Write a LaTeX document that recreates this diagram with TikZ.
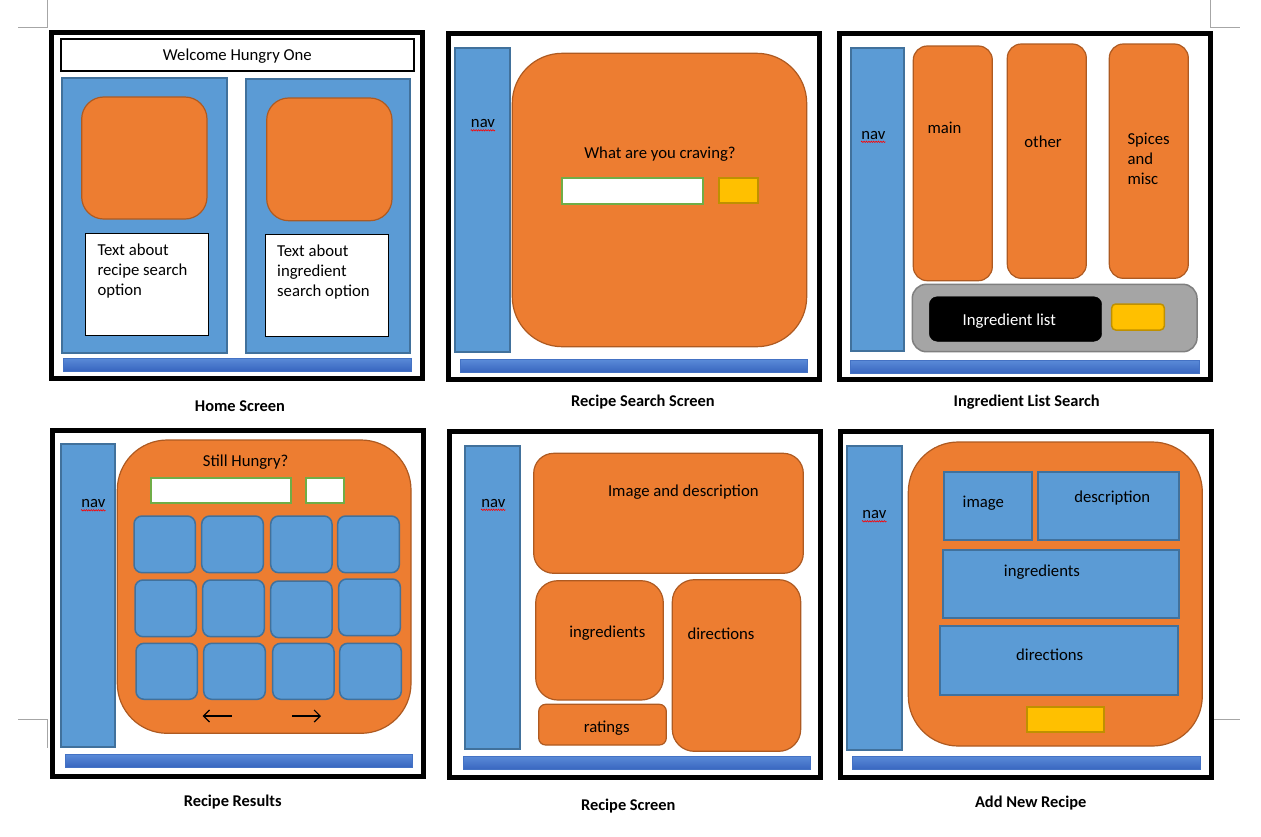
\documentclass[tikz,border=0pt]{standalone}
\usepackage{fontspec}
\setmainfont{Carlito}
\usetikzlibrary{arrows.meta,decorations.pathmorphing}
\definecolor{org}{HTML}{ED7D31}
\definecolor{orgb}{HTML}{AE5A21}
\definecolor{blu}{HTML}{5B9BD5}
\definecolor{blub}{HTML}{41719C}
\definecolor{yel}{HTML}{FFC000}
\definecolor{yelb}{HTML}{BF9000}
\definecolor{gry}{HTML}{A5A5A5}
\definecolor{gryb}{HTML}{7F7F7F}
\definecolor{grn}{HTML}{70AD47}
\definecolor{bartop}{HTML}{5A8BD8}
\definecolor{barbot}{HTML}{3865BF}
\definecolor{barb}{HTML}{4472C4}
\definecolor{crop}{HTML}{A6A6A6}
\newcommand\shp[6]{\node[#1,anchor=north west,inner sep=0pt,outer sep=0pt,minimum width={(#4)-(#2)},minimum height={(#5)-(#3)}] (#6) at (#2,#3) {};}
\tikzset{
  every node/.style={font=\fontsize{16.7}{20}\selectfont},
  frame/.style={draw=black,line width=5pt,fill=white},
  navbox/.style={draw=blub,line width=2pt,fill=blu},
  bluebox/.style={draw=blub,line width=2pt,fill=blu},
  tile/.style={draw=blub,line width=1.5pt,fill=blu,rounded corners=8pt},
  orgbox/.style={draw=orgb,line width=1.2pt,fill=org},
  bigorg/.style={orgbox,rounded corners=50pt},
  inbox/.style={draw=grn,line width=2pt,fill=white},
  yelbox/.style={draw=yelb,line width=2pt,fill=yel},
  bar/.style={draw=barb,line width=0.6pt,top color=bartop,bottom color=barbot},
  txt/.style={inner sep=0pt,text=black,yshift=-1.5pt},
  ttl/.style={inner sep=0pt,yshift=-1pt,font=\fontsize{16.4}{20}\selectfont\bfseries},
  squig/.style={draw=red,line width=0.6pt,decorate,decoration={zigzag,amplitude=0.7pt,segment length=2.4pt}},
  cropline/.style={draw=crop,line width=0.8pt},
  arr/.style={line width=1.2pt,-{Straight Barb[length=6pt,width=12pt,line width=1.2pt]}}
}
\begin{document}
\begin{tikzpicture}[x=1pt,y=-1pt]
\useasboundingbox (0,0) rectangle (1261,836);
\fill[white] (0,0) rectangle (1261,836);
% crop marks
\coordinate (c1a) at (47.5,0); \coordinate (c1b) at (47.5,27); \coordinate (c1c) at (18,27);
\draw[cropline] (c1a) -- (c1b) -- (c1c);
\coordinate (c2a) at (1210,0); \coordinate (c2b) at (1210,27); \coordinate (c2c) at (1240,27);
\draw[cropline] (c2a) -- (c2b) -- (c2c);
\coordinate (c3a) at (18,719); \coordinate (c3b) at (47.5,719); \coordinate (c3c) at (47.5,748);
\draw[cropline] (c3a) -- (c3b) -- (c3c);
\coordinate (c4a) at (1212,719); \coordinate (c4b) at (1240,719);
\draw[cropline] (c4a) -- (c4b);

% ===== Panel 1: Home Screen =====
\shp{frame}{51.5}{32.5}{422.5}{378.5}{f1}
\shp{draw=black,line width=2.2pt,fill=white}{60.7}{39}{414}{71}{wel}
\node[txt] (welt) at (wel.center) {Welcome Hungry One};
\shp{bluebox}{62}{78}{227}{353}{b1l}
\shp{bluebox}{246}{79}{410}{353}{b1r}
\shp{orgbox,rounded corners=22pt}{81.7}{97}{207}{219}{o1l}
\shp{orgbox,rounded corners=22pt}{266.7}{98}{392}{220.7}{o1r}
\shp{draw=black,line width=1pt,fill=white}{85.3}{233}{208.7}{335}{w1l}
\shp{draw=black,line width=1pt,fill=white}{265}{234}{388.7}{336}{w1r}
\node[txt,anchor=north west,align=left] (t1l) at (97.3,242) {Text about\\recipe search\\option};
\node[txt,anchor=north west,align=left] (t1r) at (277,243) {Text about\\ingredient\\search option};
\shp{bar}{63}{358}{411}{371}{bar1}
\node[ttl] (ttl1) at (240,405) {Home Screen};

% ===== Panel 2: Recipe Search Screen =====
\shp{frame}{448.5}{33.5}{819.5}{379.2}{f2}
\shp{navbox}{455.3}{48.3}{509.7}{351.7}{nav2}
\node[txt] (n2) at (483,122) {nav};
\draw[squig] ([yshift=-2.5pt]n2.south west) -- ([yshift=-2.5pt]n2.south east);
\shp{bigorg}{512.3}{53.3}{806.7}{346.7}{o2}
\node[txt] (q2) at (660,153) {What are you craving?};
\shp{inbox}{562}{178.3}{702.7}{204}{in2}
\shp{yelbox}{719.3}{177.7}{758.3}{203.3}{y2}
\shp{bar}{460}{359.3}{807.7}{372.3}{bar2}
\node[ttl] (ttl2) at (643,401) {Recipe Search Screen};

% ===== Panel 3: Ingredient List Search =====
\shp{frame}{839.8}{33.8}{1210.2}{379.2}{f3}
\shp{navbox}{850.7}{48.3}{904.3}{351}{nav3}
\node[txt] (n3) at (873.3,133.5) {nav};
\draw[squig] ([yshift=-2.5pt]n3.south west) -- ([yshift=-2.5pt]n3.south east);
\shp{orgbox,rounded corners=14pt}{913.3}{46}{992.3}{280.7}{m3}
\node[txt,anchor=west] (m3t) at (927.3,126) {main};
\shp{orgbox,rounded corners=14pt}{1007.3}{44}{1086.3}{278.3}{ot3}
\node[txt] (ot3t) at (1043,140.5) {other};
\shp{orgbox,rounded corners=14pt}{1109.3}{44}{1188.3}{278.3}{sp3}
\node[txt,anchor=north west,align=left] (sp3t) at (1127.3,131) {Spices\\and\\misc};
\shp{draw=gryb,line width=1.5pt,fill=gry,rounded corners=14pt}{912.3}{284.3}{1197}{351.7}{g3}
\shp{fill=black,draw=black,rounded corners=8pt}{929.3}{296.7}{1101.7}{341.3}{k3}
\node[txt,text=white] (k3t) at (1009.3,319.5) {Ingredient list};
\shp{yelbox,line width=1.5pt,rounded corners=4pt}{1111.7}{304}{1164.3}{330}{y3}
\shp{bar}{850.7}{360}{1199}{373.7}{bar3}
\node[ttl] (ttl3) at (1026.7,401) {Ingredient List Search};

% ===== Panel 4: Recipe Results =====
\shp{frame}{52.5}{430.8}{423.5}{776.5}{f4}
\shp{navbox}{60.7}{444.3}{114.7}{747.3}{nav4}
\node[txt] (n4) at (93.3,502) {nav};
\draw[squig] ([yshift=-2.5pt]n4.south west) -- ([yshift=-2.5pt]n4.south east);
\shp{bigorg}{117.3}{440}{411}{733.3}{o4}
\node[txt] (q4) at (245.7,461) {Still Hungry?};
\shp{inbox}{150.7}{478.3}{290.7}{502.7}{in4a}
\shp{inbox}{305.7}{478.3}{344.3}{502.7}{in4b}
\shp{tile}{134}{516}{195.3}{572.7}{t11}
\shp{tile}{201.7}{516}{263.3}{572.7}{t12}
\shp{tile}{270.7}{516}{332}{572.7}{t13}
\shp{tile}{337.7}{516}{399.3}{572.7}{t14}
\shp{tile}{135}{580}{196.3}{636.7}{t21}
\shp{tile}{202.7}{580}{264.3}{636.7}{t22}
\shp{tile}{270.7}{581}{332}{637.7}{t23}
\shp{tile}{338.7}{579}{400.3}{635.7}{t24}
\shp{tile}{136}{643.3}{197.3}{699.3}{t31}
\shp{tile}{203.7}{643.3}{265.3}{699.3}{t32}
\shp{tile}{272.7}{643.3}{334}{699.3}{t33}
\shp{tile}{339.7}{643.3}{401.3}{699.3}{t34}
\coordinate (la1) at (231.7,716); \coordinate (la2) at (202.7,716);
\coordinate (ra1) at (292.3,716); \coordinate (ra2) at (321,716);
\draw[arr] (la1) -- (la2);
\draw[arr] (ra1) -- (ra2);
\shp{bar}{65}{754.3}{412.7}{767.3}{bar4}
\node[ttl] (ttl4) at (232.7,801) {Recipe Results};

% ===== Panel 5: Recipe Screen =====
\shp{frame}{449.8}{431.8}{820.2}{777.2}{f5}
\shp{navbox}{465.3}{446.3}{519.7}{749.3}{nav5}
\node[txt] (n5) at (493.3,501.5) {nav};
\draw[squig] ([yshift=-2.5pt]n5.south west) -- ([yshift=-2.5pt]n5.south east);
\shp{orgbox,rounded corners=20pt}{533.7}{453.3}{803.3}{573.3}{id5}
\node[txt] (id5t) at (683.3,491) {Image and description};
\shp{orgbox,rounded corners=22pt}{535.7}{580.7}{663.3}{700}{ing5}
\node[txt] (ing5t) at (607.3,632) {ingredients};
\shp{orgbox,rounded corners=22pt}{672.3}{579.7}{800.7}{751.3}{dir5}
\node[txt] (dir5t) at (721,632) {directions};
\shp{orgbox,rounded corners=7pt}{538.7}{704.3}{666.3}{745}{rat5}
\node[txt] (rat5t) at (606.7,726.5) {ratings};
\shp{bar}{463}{756}{810.7}{769.7}{bar5}
\node[ttl] (ttl5) at (628.3,805) {Recipe Screen};

% ===== Panel 6: Add New Recipe =====
\shp{frame}{840.5}{431.8}{1211.5}{777.5}{f6}
\shp{navbox}{847.3}{446.3}{901.7}{749.7}{nav6}
\node[txt] (n6) at (874.3,513) {nav};
\draw[squig] ([yshift=-2.5pt]n6.south west) -- ([yshift=-2.5pt]n6.south east);
\shp{bigorg}{908.3}{442}{1202.3}{746}{o6}
\shp{bluebox}{943.7}{471.7}{1031.7}{540.3}{im6}
\node[txt] (im6t) at (983.3,501.5) {image};
\shp{bluebox}{1038.3}{471.7}{1178.7}{540.3}{de6}
\node[txt] (de6t) at (1112.3,496.5) {description};
\shp{bluebox}{942.7}{549.7}{1179.3}{618.3}{in6}
\node[txt] (in6t) at (1042,571) {ingredients};
\shp{bluebox}{940.3}{626.3}{1177.7}{695.3}{di6}
\node[txt] (di6t) at (1049.7,653) {directions};
\shp{yelbox}{1026.7}{706.7}{1104.3}{732}{y6}
\shp{bar}{852}{756}{1200}{769.7}{bar6}
\node[ttl] (ttl6) at (1030.7,802.3) {Add New Recipe};
\end{tikzpicture}
\end{document}
